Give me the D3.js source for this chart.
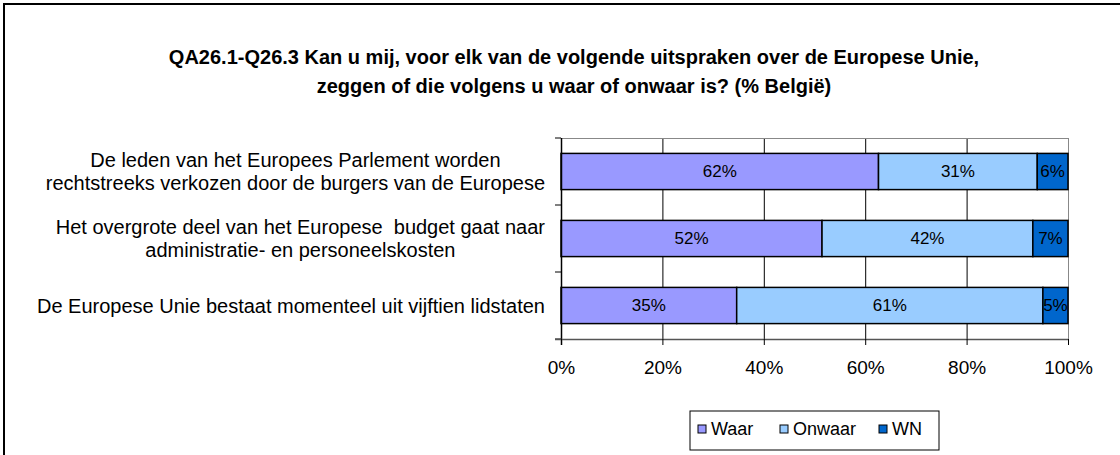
<!DOCTYPE html>
<html>
<head>
<meta charset="utf-8">
<script src="https://cdn.jsdelivr.net/npm/d3@7"></script>
<style>
  body { margin: 0; background: #fff; }
  svg { display: block; font-family: "Liberation Sans", Arial, sans-serif; }
</style>
</head>
<body>
<div id="chart"></div>
<script>
// Statements (top to bottom), each split over display lines.
const statements = [
  ['De leden van het Europees Parlement worden', 'rechtstreeks verkozen door de burgers van de Europese'],
  ['Het overgrote deel van het Europese  budget gaat naar', 'administratie- en personeelskosten'],
  ['De Europese Unie bestaat momenteel uit vijftien lidstaten']
];
const seriesNames = ['Waar', 'Onwaar', 'WN'];
const waar = [62, 52, 35];
const onwaar = [31, 42, 61];
const wn = [6, 7, 5];
const xTicks = [0, 0.2, 0.4, 0.6, 0.8, 1];
const colors = ['#9999ff', '#99ccff', '#0066cc'];

const width = 1120, height = 455;
const plot = { left: 561, right: 1068, top: 138, bottom: 339 };

const rows = statements.map((s, i) => ({ id: i, Waar: waar[i], Onwaar: onwaar[i], WN: wn[i] }));
const stacked = d3.stack().keys(seriesNames).offset(d3.stackOffsetExpand)(rows);

const svg = d3.select('#chart').append('svg')
  .attr('width', width)
  .attr('height', height);

// Outer frame (runs off the picture right and bottom).
svg.append('rect')
  .attr('x', 4).attr('y', 4)
  .attr('width', 1300).attr('height', 700)
  .attr('fill', 'none')
  .attr('stroke', '#000')
  .attr('stroke-width', 2);

// Title.
const title = svg.append('text')
  .attr('text-anchor', 'middle')
  .style('font-size', '20px')
  .style('font-weight', 'bold');
title.append('tspan').attr('x', 574).attr('y', 64)
  .text('QA26.1-Q26.3 Kan u mij, voor elk van de volgende uitspraken over de Europese Unie,');
title.append('tspan').attr('x', 574).attr('y', 93)
  .text('zeggen of die volgens u waar of onwaar is? (% België)');

const xScale = d3.scaleLinear().domain([0, 1]).range([plot.left, plot.right]);
const yScale = d3.scaleBand()
  .domain(rows.map(d => d.id))
  .range([plot.top, plot.bottom])
  .paddingInner(0.46)
  .paddingOuter(0.23);

// Gridlines.
svg.append('g')
  .selectAll('line')
  .data(xTicks.slice(1))
  .join('line')
  .attr('x1', d => xScale(d) + 0.5)
  .attr('x2', d => xScale(d) + 0.5)
  .attr('y1', plot.top)
  .attr('y2', plot.bottom)
  .attr('stroke', d => d === 1 ? '#888' : '#000')
  .attr('stroke-width', 1);

svg.append('line')
  .attr('x1', plot.left).attr('x2', plot.right)
  .attr('y1', plot.top + 0.5).attr('y2', plot.top + 0.5)
  .attr('stroke', '#888');

// Bars.
const layers = svg.append('g')
  .selectAll('g')
  .data(stacked)
  .join('g')
  .attr('fill', (d, i) => colors[i]);

layers.selectAll('rect')
  .data(d => d)
  .join('rect')
  .attr('x', d => xScale(d[0]))
  .attr('y', d => yScale(d.data.id))
  .attr('width', d => xScale(d[1]) - xScale(d[0]))
  .attr('height', yScale.bandwidth())
  .attr('stroke', '#000')
  .attr('stroke-width', 1.5);

// Data labels.
stacked.forEach((layer, si) => {
  svg.append('g')
    .selectAll('text')
    .data(layer)
    .join('text')
    .attr('x', d => xScale((d[0] + d[1]) / 2))
    .attr('y', d => yScale(d.data.id) + yScale.bandwidth() / 2)
    .attr('dy', '0.35em')
    .attr('text-anchor', 'middle')
    .style('font-size', '17px')
    .attr('fill', '#000')
    .text(d => d.data[seriesNames[si]] + '%');
});

// Y axis: line with ticks at band boundaries.
svg.append('line')
  .attr('x1', plot.left + 0.5).attr('x2', plot.left + 0.5)
  .attr('y1', plot.top).attr('y2', plot.bottom + 6)
  .attr('stroke', '#000').attr('stroke-width', 1.5);

svg.append('g')
  .selectAll('line')
  .data(d3.range(rows.length + 1))
  .join('line')
  .attr('x1', plot.left - 6).attr('x2', plot.left)
  .attr('y1', i => plot.top + i * (plot.bottom - plot.top) / rows.length)
  .attr('y2', i => plot.top + i * (plot.bottom - plot.top) / rows.length)
  .attr('stroke', '#000');

// X axis.
const xAxis = d3.axisBottom(xScale)
  .tickValues(xTicks)
  .tickFormat(d3.format('.0%'))
  .tickSize(6)
  .tickSizeOuter(0);

const gx = svg.append('g')
  .attr('transform', `translate(0, ${plot.bottom})`)
  .call(xAxis);
gx.select('.domain').attr('stroke', '#555').attr('stroke-width', 1.5)
  .attr('d', `M${plot.left - 6},0.5H${plot.right}`);
gx.selectAll('.tick line').attr('stroke', '#000');
gx.selectAll('.tick text')
  .attr('y', 22)
  .style('font-size', '19px')
  .style('font-family', '"Liberation Sans", Arial, sans-serif')
  .attr('fill', '#000');

// Category labels, lines centred on each other, block right-aligned.
const labelRight = 545;
const lineH = 23;
statements.forEach((lines, i) => {
  const cy = yScale(i) + yScale.bandwidth() / 2;
  const t = svg.append('text')
    .attr('text-anchor', 'middle')
    .attr('xml:space', 'preserve')
    .style('font-size', '20px')
    .attr('fill', '#000');
  const spans = lines.map((line, j) => t.append('tspan')
    .attr('y', cy + (j - (lines.length - 1) / 2) * lineH)
    .attr('dy', '0.35em')
    .text(line));
  const maxW = d3.max(spans, s => s.node().getComputedTextLength());
  spans.forEach(s => s.attr('x', labelRight - maxW / 2));
});

// Legend.
const legend = svg.append('g').attr('transform', 'translate(690, 411)');
legend.append('rect')
  .attr('width', 249).attr('height', 39)
  .attr('fill', '#fff')
  .attr('stroke', '#000');
const legendX = [8, 90, 189];
seriesNames.forEach((name, i) => {
  const g = legend.append('g').attr('transform', `translate(${legendX[i]}, 0)`);
  g.append('rect')
    .attr('x', 0).attr('y', 14)
    .attr('width', 8).attr('height', 8)
    .attr('fill', colors[i])
    .attr('stroke', '#000');
  g.append('text')
    .attr('x', 13).attr('y', 18)
    .attr('dy', '0.35em')
    .style('font-size', '18px')
    .text(name);
});
</script>
</body>
</html>
